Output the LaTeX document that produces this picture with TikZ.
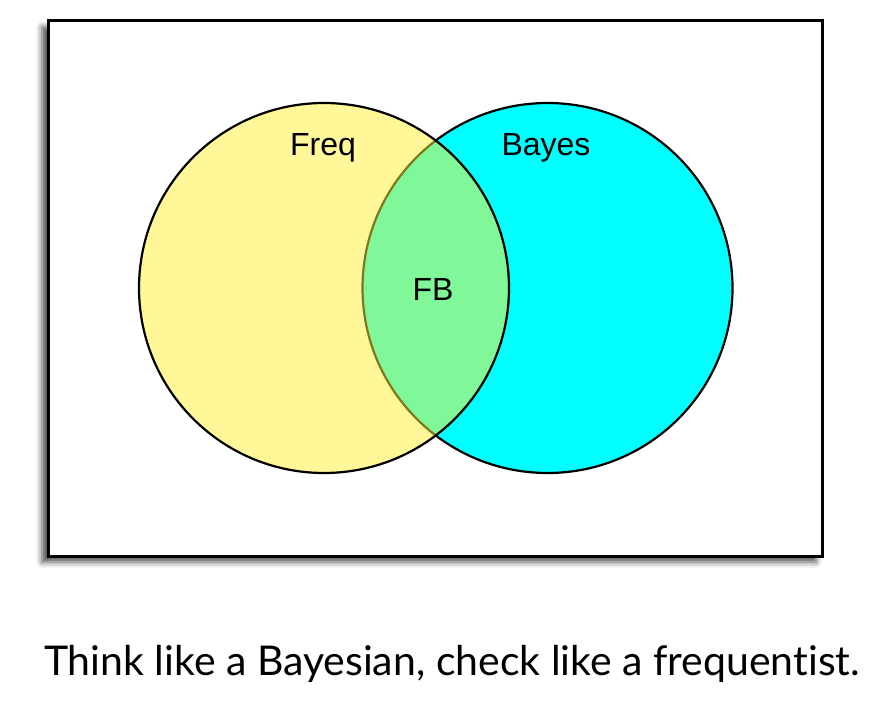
\documentclass[tikz,border=0pt]{standalone}
\usepackage{fontspec}
\setmainfont{Liberation Sans}
\newfontfamily\capfont[Ligatures={NoCommon,NoRare}]{Lato}
\usetikzlibrary{shadows.blur}
\definecolor{setyellow}{RGB}{255,240,50}
\definecolor{setcyan}{RGB}{0,255,255}
\begin{document}
\begin{tikzpicture}[x=1pt,y=-1pt]
\tikzstyle{every node}+=[inner sep=0pt]
\tikzstyle{setcircle}=[circle, draw=black, line width=2.2pt, minimum size=370pt]
\tikzstyle{setlabel}=[anchor=base, font=\fontsize{32}{38}\selectfont]
\useasboundingbox (0,0) rectangle (886,701);
% frame with shadow
\draw [black, line width=3pt, fill=white, blur shadow={shadow xshift=-6pt, shadow yshift=-6pt, shadow blur radius=6pt, shadow opacity=70}] (48,21) rectangle (822,556);
% the two sets
\node [setcircle, fill=setcyan] (bayes) at (547.5,288) {};
\node [setcircle, fill=setyellow, fill opacity=0.5] (freq) at (324,288) {};
\node [setlabel] (freqlabel) at (323,155) {Freq};
\node [setlabel] (bayeslabel) at (546,155) {Bayes};
\node [setlabel] (fblabel) at (433,300) {FB};
% caption
\node [anchor=base, font=\capfont\fontsize{41}{49}\selectfont] (caption) at (452,675) {Think like a Bayesian, check like a frequentist.};
\end{tikzpicture}
\end{document}
